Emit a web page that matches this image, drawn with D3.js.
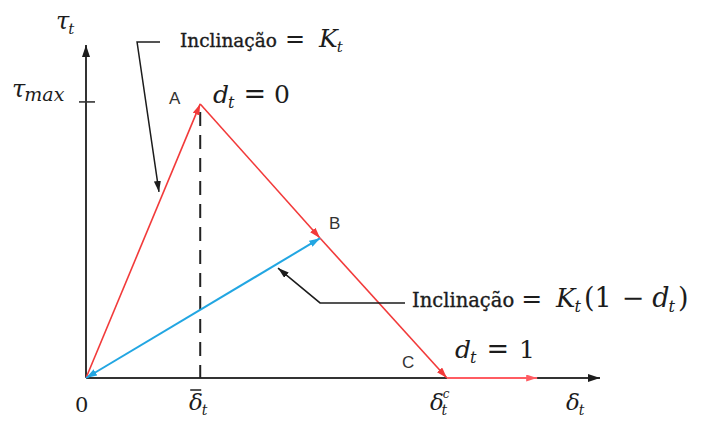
<!DOCTYPE html>
<html>
<head>
<meta charset="utf-8">
<script src="https://cdn.jsdelivr.net/npm/d3@7/dist/d3.min.js"></script>
<style>
  html, body { margin: 0; padding: 0; background: #fff; }
  svg { display: block; }
</style>
</head>
<body>
<svg id="chart" width="706" height="423"></svg>
<script>
// Bilinear traction–separation law (cohesive zone), in normalised units
const deltaBar = 1.0;      // separation at peak traction
const deltaC = 3.16;       // final separation
const tauMax = 1.0;        // peak traction
const pointA = [deltaBar, tauMax];
const pointB = [2.05, 0.51];
const pointC = [deltaC, 0];
const tailEnd = [3.95, 0];               // d_t = 1 branch
const axisMax = [4.5, 1.215];            // axis extents

// Leader lines for the slope notes (data units)
const leaderK = [[0.648, 1.226], [0.447, 1.226], [0.639, 0.679]];
const leaderKd = [[2.793, 0.274], [2.049, 0.274], [1.681, 0.401]];

const svg = d3.select("#chart");
const x = d3.scaleLinear().domain([0, axisMax[0]]).range([86, 600]);
const y = d3.scaleLinear().domain([0, axisMax[1]]).range([378, 45]);

const RED = "#f23a3a", RED_LIGHT = "#ff5c62", BLUE = "#22a6e2", INK = "#1c1c1c";

// arrowhead markers
const defs = svg.append("defs");
function marker(id, color, w, h) {
  defs.append("marker").attr("id", id)
    .attr("viewBox", `0 0 ${w} ${h}`).attr("refX", w).attr("refY", h / 2)
    .attr("markerWidth", w).attr("markerHeight", h)
    .attr("markerUnits", "userSpaceOnUse").attr("orient", "auto-start-reverse")
    .append("path").attr("d", `M0,0 L${w},${h / 2} L0,${h} Z`).attr("fill", color);
}
marker("ar-red", RED, 11, 7);
marker("ar-redl", RED_LIGHT, 11, 7);
marker("ar-blue", BLUE, 11, 7);
marker("ar-ink", INK, 11, 7);
marker("ar-axis", INK, 12, 8);

const line = d3.line().x(d => x(d[0])).y(d => y(d[1]));

// axes
svg.append("path").attr("d", line([[0, 0], [axisMax[0], 0]]))
  .attr("stroke", "#333").attr("stroke-width", 2).attr("fill", "none")
  .attr("marker-end", "url(#ar-axis)");
svg.append("path").attr("d", line([[0, 0], [0, axisMax[1]]]))
  .attr("stroke", "#333").attr("stroke-width", 2).attr("fill", "none")
  .attr("marker-end", "url(#ar-axis)");
// tau_max tick
svg.append("line")
  .attr("x1", x(0) - 7).attr("x2", x(0) + 9)
  .attr("y1", y(tauMax) - 2).attr("y2", y(tauMax) - 2)
  .attr("stroke", "#333").attr("stroke-width", 1.6);

// dashed guide at peak separation
svg.append("path").attr("d", line([[deltaBar, tauMax], [deltaBar, 0]]))
  .attr("stroke", "#222").attr("stroke-width", 2).attr("stroke-dasharray", "14,9")
  .attr("stroke-dashoffset", -8).attr("fill", "none");

// loading / softening branches
const redSegs = [[[0, 0], pointA], [pointA, pointB], [pointB, pointC]];
svg.selectAll(".seg").data(redSegs).join("path").attr("class", "seg")
  .attr("d", d => line(d)).attr("stroke", RED).attr("stroke-width", 1.6)
  .attr("fill", "none").attr("marker-end", "url(#ar-red)");
// fully damaged branch
svg.append("path").attr("d", line([pointC, tailEnd]))
  .attr("stroke", RED_LIGHT).attr("stroke-width", 2.2).attr("fill", "none")
  .attr("marker-end", "url(#ar-redl)");
// unloading / reloading
svg.append("path").attr("d", line([[0, 0], pointB]))
  .attr("stroke", BLUE).attr("stroke-width", 2).attr("fill", "none")
  .attr("marker-end", "url(#ar-blue)").attr("marker-start", "url(#ar-blue)");

// leader lines
[leaderK, leaderKd].forEach(pts => {
  svg.append("path").attr("d", line(pts)).attr("stroke", INK).attr("stroke-width", 1.5)
    .attr("fill", "none").attr("marker-end", "url(#ar-ink)");
});

// text helpers
const SERIF = "'DejaVu Serif', 'Liberation Serif', serif";
function mathText(px, py, parts, size) {
  const t = svg.append("text").attr("x", px).attr("y", py)
    .attr("font-family", SERIF).attr("font-size", size).attr("fill", INK);
  parts.forEach(p => {
    const s = t.append("tspan").text(p.t);
    if (p.i) s.attr("font-style", "italic");
    if (p.fs) s.attr("font-size", p.fs);
    if (p.dx !== undefined) s.attr("dx", p.dx);
    if (p.dy !== undefined) s.attr("dy", p.dy);
    if (p.sw) s.attr("stroke", INK).attr("stroke-width", p.sw);
  });
  return t;
}
function sans(px, py, s) {
  svg.append("text").attr("x", px).attr("y", py).text(s)
    .attr("font-family", "'Liberation Sans', Arial, sans-serif")
    .attr("font-size", 17).attr("fill", "#333");
}

// axis titles
mathText(56, 29, [{t: "τ", i: 1}, {t: "t", i: 1, fs: 15, dy: 5, dx: -1}], 24);
mathText(12, 97, [{t: "τ", i: 1}, {t: "max", i: 1, fs: 19, dy: 4, dx: -1}], 24);
mathText(566, 410, [{t: "δ", i: 1}, {t: "t", i: 1, fs: 14, dy: 5, dx: -1}], 23);
mathText(75, 412, [{t: "0"}], 21);
mathText(189, 410, [{t: "δ", i: 1}, {t: "t", i: 1, fs: 14, dy: 5, dx: -1}], 23);
svg.append("line").attr("x1", x(deltaBar) - 10).attr("x2", x(deltaBar) + 1)
  .attr("y1", 390).attr("y2", 390).attr("stroke", INK).attr("stroke-width", 1.5);
mathText(430, 410, [{t: "δ", i: 1}, {t: "c", i: 1, fs: 12, dy: -12, dx: -1}, {t: "t", i: 1, fs: 14, dy: 17, dx: -8}], 23);

// point labels
sans(169, 104, "A");
sans(329, 229, "B");
sans(402, 368, "C");

// damage states
mathText(213, 103, [{t: "d", i: 1}, {t: "t", i: 1, fs: 16, dy: 5, dx: -1}, {t: "=", dy: -5, dx: 9, fs: 27}, {t: "0", dx: 8}], 25);
mathText(455, 358, [{t: "d", i: 1}, {t: "t", i: 1, fs: 16, dy: 5, dx: -1}, {t: "=", dy: -5, dx: 10, fs: 27}, {t: "1", dx: 10}], 25);

// slope notes
mathText(180, 47, [{t: "Inclinação", sw: 0.35}, {t: "=", fs: 24, dx: 8}, {t: "K", i: 1, fs: 25, dx: 14}, {t: "t", i: 1, fs: 15, dy: 5, dx: -1}], 18.5);
mathText(412, 307, [{t: "Inclinação", sw: 0.35}, {t: "=", fs: 25, dx: 7}, {t: "K", i: 1, fs: 26, dx: 14}, {t: "t", i: 1, fs: 16, dy: 5, dx: -1},
  {t: "(1", fs: 27, dy: -5, dx: 3}, {t: "−", fs: 27, dx: 10}, {t: "d", i: 1, fs: 27, dx: 8}, {t: "t", i: 1, fs: 16, dy: 5, dx: -1}, {t: ")", fs: 27, dy: -5, dx: 3}], 19.5);
</script>
</body>
</html>
